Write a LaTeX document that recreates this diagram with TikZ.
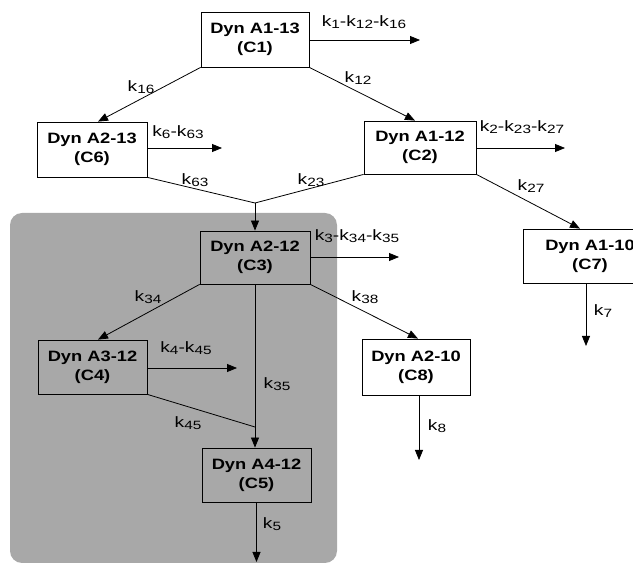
\documentclass[tikz,border=0pt]{standalone}
\usepackage{fontspec}
\setmainfont{Liberation Sans}
\newfontfamily\dfont[FakeStretch=1.22]{Liberation Sans}
\newfontfamily\lfont[FakeStretch=1.28]{Liberation Sans}
\usetikzlibrary{arrows.meta,calc}
\definecolor{regiongray}{gray}{0.66}
\newcommand{\kk}[1]{k\raisebox{-0.25ex}{\fontsize{12}{12}\selectfont #1}}
\begin{document}
\begin{tikzpicture}[x=1pt,y=-1pt,
  box/.style={draw, line width=0.8pt, minimum width=110pt, minimum height=54pt,
    align=center, inner sep=0pt, font=\dfont\bfseries\fontsize{15}{19}\selectfont},
  lbl/.style={inner sep=0pt, font=\lfont\fontsize{15}{15}\selectfont},
  conn/.style={line width=0.8pt},
  arr/.style={conn, -{Triangle[length=10pt,width=8pt]}}]
\useasboundingbox (0,0) rectangle (633,569);
\clip (0,0) rectangle (633,569);
% shaded region
\fill[regiongray, rounded corners=12pt] (10,213) rectangle (337,563);
% boxes
\node[box, minimum width=108pt, minimum height=55pt] (C1) at (255,39.5) {Dyn A1-13\\(C1)};
\node[box, minimum height=55pt] (C6) at (92,149.5) {Dyn A2-13\\(C6)};
\node[box, minimum width=112pt, minimum height=53pt] (C2) at (420,147.5) {Dyn A1-12\\(C2)};
\node[box, minimum height=53pt] (C3) at (255,257.5) {Dyn A2-12\\(C3)};
\node[box, minimum width=134pt] (C7) at (590,256) {Dyn A1-10\\(C7)};
\node[box, minimum width=109pt] (C4) at (92.5,367) {Dyn A3-12\\(C4)};
\node[box, minimum width=108pt, minimum height=56pt] (C8) at (416,367) {Dyn A2-10\\(C8)};
\node[box, minimum width=109pt] (C5) at (256.5,475) {Dyn A4-12\\(C5)};
% free ends and junctions
\coordinate (e1) at (420,40);
\coordinate (e6) at (222,148);
\coordinate (e2) at (565,148);
\coordinate (e3) at (399,257);
\coordinate (e4) at (237,368);
\coordinate (e5) at (256.5,562);
\coordinate (e7) at (586,346);
\coordinate (e8) at (419,460);
\coordinate (m3) at (255,203);
\coordinate (m5) at (255,427);
% connectors
\draw[arr] (C1.east |- e1) -- (e1);
\draw[arr] (C6.east |- e6) -- (e6);
\draw[arr] (C2.east |- e2) -- (e2);
\draw[arr] (C3.east |- e3) -- (e3);
\draw[arr] (C4.east |- e4) -- (e4);
\draw[arr] (C1.south west) -- ($(C6.north)+(6,0)$);
\draw[arr] (C1.south east) -- ($(C2.north)+(-5,0)$);
\draw[conn] (C6.south east) -- (m3);
\draw[conn] (C2.south west) -- (m3);
\draw[arr] (m3) -- (C3.north);
\draw[arr] (C2.south east) -- ($(C7.north)+(-10,0)$);
\draw[arr] (C7.south -| e7) -- (e7);
\draw[arr] (C3.south west) -- ($(C4.north)+(5.5,0)$);
\draw[arr] (C3.south east) -- ($(C8.north)+(2,0)$);
\draw[arr] (C8.south -| e8) -- (e8);
\draw[conn] (C4.south east) -- (m5);
\draw[arr] (C3.south) -- (C3.south |- C5.north);
\draw[arr] (C5.south) -- (e5);
% labels
\node[lbl] (l1) at (364,22) {\kk{1}-\kk{12}-\kk{16}};
\node[lbl] (l16) at (141,87) {\kk{16}};
\node[lbl] (l12) at (358,78) {\kk{12}};
\node[lbl] (l6) at (178,132) {\kk{6}-\kk{63}};
\node[lbl] (l63) at (195,180) {\kk{63}};
\node[lbl] (l23) at (311,180) {\kk{23}};
\node[lbl] (l2) at (522,127) {\kk{2}-\kk{23}-\kk{27}};
\node[lbl] (l27) at (531,186) {\kk{27}};
\node[lbl] (l3) at (357,236) {\kk{3}-\kk{34}-\kk{35}};
\node[lbl] (l38) at (365,297) {\kk{38}};
\node[lbl] (l34) at (148,297) {\kk{34}};
\node[lbl] (l4) at (186,348) {\kk{4}-\kk{45}};
\node[lbl] (l35) at (277,384) {\kk{35}};
\node[lbl] (l45) at (188,423) {\kk{45}};
\node[lbl] (l5) at (272,524) {\kk{5}};
\node[lbl] (l8) at (437,426) {\kk{8}};
\node[lbl] (l7) at (603,311) {\kk{7}};
\end{tikzpicture}
\end{document}
